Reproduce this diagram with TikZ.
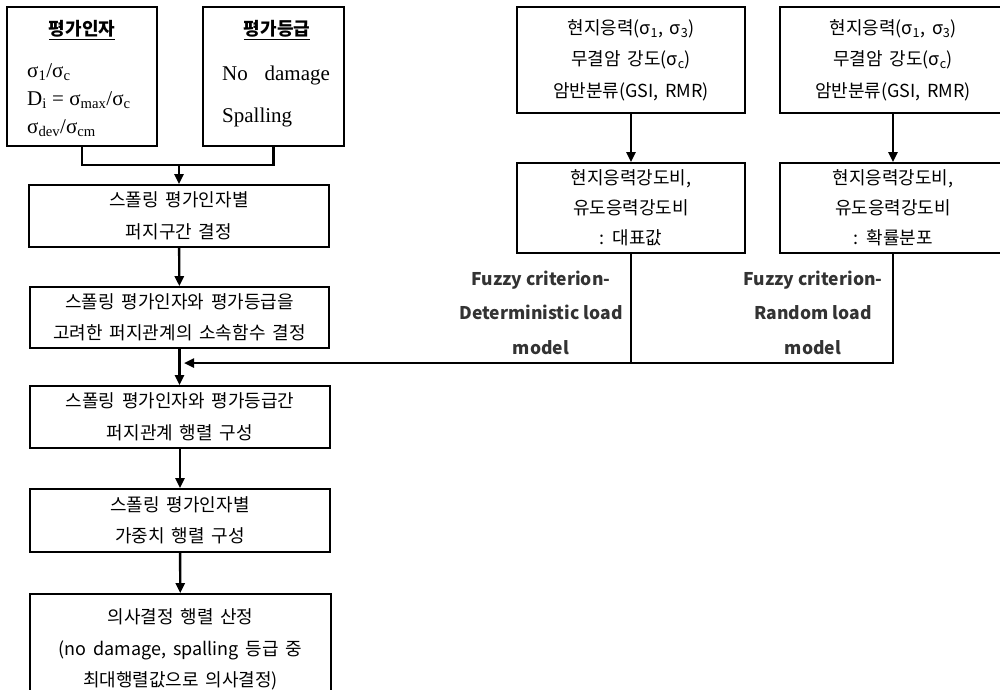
\documentclass[tikz,border=0pt]{standalone}
\usepackage{fontspec}
\setmainfont{Liberation Serif}
\newfontfamily\krfont{Noto Sans CJK KR}[WordSpace=1.7, Scale=1.01]
\newfontfamily\krlabel{Noto Sans CJK KR}
\usetikzlibrary{positioning, arrows.meta}

\begin{document}
\begin{tikzpicture}[x=1pt, y=-1pt,
            box/.style={draw, line width=1.7pt, inner sep=0pt, align=center,
                font=\krfont\fontsize{17.8}{31.5}\selectfont},
            line/.style={line width=2.4pt},
            flow/.style={line width=2.4pt, -{Triangle[length=10pt, width=9pt]}},
            fuzzy/.style={align=center, text=black!80,
                font=\krlabel\bfseries\fontsize{17.5}{34.5}\selectfont},
            title/.style={inner sep=0pt, font=\krlabel\bfseries\fontsize{18}{20}\selectfont},
            serif/.style={font=\fontsize{21}{22}\selectfont, inner sep=0pt}]
            \useasboundingbox (0, 0) rectangle (1000, 689);
            \clip (0, 0) rectangle (1000, 689);
            \node[box, minimum width=150pt, minimum height=139pt] (fac) at (82, 76.5) {};
            \node[box, minimum width=141pt, minimum height=139pt] (grd) at (273.5, 76.5) {};
            \node[title] (facT) at (82, 30) {\underline{평가인자}};
            \node[title] (grdT) at (277, 30) {\underline{평가등급}};
            \node[serif, anchor=west] (f1) at (27, 72) {σ\textsubscript{1}/σ\textsubscript{c}};
            \node[serif, anchor=west] (f2) at (27, 100) {D\textsubscript{i} = σ\textsubscript{max}/σ\textsubscript{c}};
            \node[serif, anchor=west] (f3) at (27, 128) {σ\textsubscript{dev}/σ\textsubscript{cm}};
            \node[serif, anchor=west] (g1) at (222, 75) {No\hspace{0.8em}damage};
            \node[serif, anchor=west] (g2) at (222, 117) {Spalling};
            \node[box, minimum width=300pt, minimum height=62pt] (fz) at (179, 216)
                {스폴링 평가인자별\\퍼지구간 결정};
            \node[box, minimum width=299pt, minimum height=61pt] (mf) at (179.5, 317.5)
                {스폴링 평가인자와 평가등급을\\고려한 퍼지관계의 소속함수 결정};
            \node[box, minimum width=300pt, minimum height=62pt] (rel) at (180, 417)
                {스폴링 평가인자와 평가등급간\\퍼지관계 행렬 구성};
            \node[box, minimum width=300pt, minimum height=63pt] (wgt) at (180, 520.5)
                {스폴링 평가인자별\\가중치 행렬 구성};
            \node[box, minimum width=301pt, minimum height=111pt] (dec) at (180.5, 649.5)
                {의사결정 행렬 산정\\(no damage, spalling 등급 중\\최대행렬값으로 의사결정)};
            \node[box, minimum width=228pt, minimum height=106pt] (insA) at (631, 60)
                {현지응력(σ\textsubscript{1}, σ\textsubscript{3})\\무결암 강도(σ\textsubscript{c})\\암반분류(GSI, RMR)};
            \node[box, minimum width=226pt, minimum height=106pt] (insB) at (893, 60)
                {현지응력(σ\textsubscript{1}, σ\textsubscript{3})\\무결암 강도(σ\textsubscript{c})\\암반분류(GSI, RMR)};
            \node[box, minimum width=228pt, minimum height=90pt, font=\krfont\fontsize{17.8}{30}\selectfont] (ratA) at (631, 208)
                {현지응력강도비,\\유도응력강도비\\: 대표값};
            \node[box, minimum width=226pt, minimum height=90pt, font=\krfont\fontsize{17.8}{30}\selectfont] (ratB) at (893, 208)
                {현지응력강도비,\\유도응력강도비\\: 확률분포};
            \node[fuzzy] (lblA) at (541, 312.5) {Fuzzy criterion-\\Deterministic load\\model};
            \node[fuzzy] (lblB) at (813, 312.5) {Fuzzy criterion-\\Random load\\model};
            \coordinate (m) at (179, 165);
            \coordinate (in) at (184, 363);
            \draw[line] (fac.south) |- (m) -| (grd.south);
            \draw[flow] (m) -- (fz);
            \draw[flow] (fz) -- (mf);
            \draw[flow] (mf.south) -- (rel.north -| mf.south);
            \draw[flow] (rel) -- (wgt);
            \draw[flow] (wgt) -- (dec);
            \draw[flow] (insA) -- (ratA);
            \draw[flow] (insB) -- (ratB);
            \draw[flow] (ratA.south) |- (in);
            \draw[line] (ratB.south) |- (ratA.south |- in);
\end{tikzpicture}
\end{document}
